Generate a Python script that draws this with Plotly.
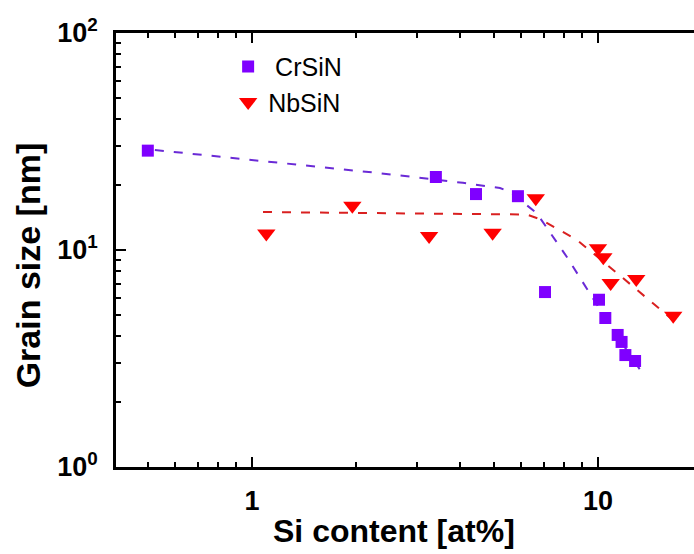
import plotly.graph_objects as go

# Measured grain sizes versus Si content
cr_si = [0.50, 3.40, 4.44, 5.87, 7.03, 10.07, 10.5, 11.4, 11.7, 12.0, 12.8]
cr_grain = [28.7, 21.7, 18.1, 17.7, 6.4, 5.9, 4.86, 4.06, 3.77, 3.28, 3.08]

nb_si = [1.10, 1.95, 3.25, 4.96, 6.61, 10.0, 10.36, 10.88, 12.9, 16.5]
nb_grain = [11.9, 16.0, 11.6, 12.0, 17.3, 10.2, 9.25, 7.05, 7.35, 4.98]

# Dashed trend lines
cr_fit_si = [0.524, 2.34, 4.07, 5.21, 5.57, 6.65, 8.12, 9.48, 11.05, 13.5]
cr_fit_grain = [28.9, 22.6, 20.4, 19.3, 18.5, 14.8, 9.31, 6.34, 4.28, 2.68]

nb_fit_si = [1.076, 6.23, 6.84, 8.70, 11.35, 17.26]
nb_fit_grain = [14.96, 14.57, 13.82, 11.12, 7.83, 4.46]

# Axis ticks
x_major = [1, 10]
x_major_text = ["1", "10"]
x_minor = [0.5, 0.6, 0.7, 0.8, 0.9, 2, 3, 4, 5, 6, 7, 8, 9, 20]
y_major = [1, 10, 100]
y_major_text = ["10<sup>0</sup>", "10<sup>1</sup>", "10<sup>2</sup>"]
y_minor = [2, 3, 4, 5, 6, 7, 8, 9, 20, 30, 40, 50, 60, 70, 80, 90]

PURPLE = "#7f00ff"
PURPLE_LINE = "#6a2ad6"
RED = "#ff0000"
RED_LINE = "#d92020"
FONT = "Liberation Sans"

fig = go.Figure()

fig.add_trace(go.Scatter(
    x=cr_fit_si, y=cr_fit_grain, mode="lines", showlegend=False,
    line=dict(color=PURPLE_LINE, width=2, dash="9px,10px"),
))
fig.add_trace(go.Scatter(
    x=nb_fit_si, y=nb_fit_grain, mode="lines", showlegend=False,
    line=dict(color=RED_LINE, width=2, dash="9px,10px"),
))
fig.add_trace(go.Scatter(
    x=cr_si, y=cr_grain, mode="markers", name=" CrSiN",
    marker=dict(symbol="square", size=12, color=PURPLE),
))
fig.add_trace(go.Scatter(
    x=nb_si, y=nb_grain, mode="markers", name="NbSiN",
    marker=dict(symbol="triangle-down", size=16, color=RED),
))

fig.update_xaxes(
    type="log", range=[-0.393, 1.2775],
    tickmode="array", tickvals=x_major, ticktext=x_major_text,
    ticks="inside", ticklen=10, tickwidth=2, tickcolor="black",
    tickfont=dict(family=FONT, size=27, color="black", weight="bold"),
    ticklabelstandoff=8,
    minor=dict(tickmode="array", tickvals=x_minor, ticks="inside",
               ticklen=5, tickwidth=1.5, tickcolor="black", showgrid=False),
    showline=True, linewidth=2.5, linecolor="black", mirror="allticks",
    showgrid=False, zeroline=False,
)
fig.update_yaxes(
    type="log", range=[0, 2],
    tickmode="array", tickvals=y_major, ticktext=y_major_text,
    ticks="inside", ticklen=10, tickwidth=2, tickcolor="black",
    tickfont=dict(family=FONT, size=27, color="black", weight="bold"),
    ticklabelstandoff=10,
    minor=dict(tickmode="array", tickvals=y_minor, ticks="inside",
               ticklen=5, tickwidth=1.5, tickcolor="black", showgrid=False),
    showline=True, linewidth=2.5, linecolor="black", mirror=False,
    showgrid=False, zeroline=False,
)

# Axis titles
fig.add_annotation(
    text="Si content [at%]", xref="paper", yref="paper",
    x=0.481, y=-0.148, xanchor="center", yanchor="middle", showarrow=False,
    font=dict(family=FONT, size=32, color="black", weight="bold"),
)
fig.add_annotation(
    text="Grain size [nm]", xref="paper", yref="paper",
    x=-0.152, y=0.465, xanchor="center", yanchor="middle", showarrow=False,
    textangle=-90,
    font=dict(family=FONT, size=34, color="black", weight="bold"),
)

fig.update_layout(
    width=694, height=554,
    margin=dict(l=116, r=0, t=33, b=87),
    paper_bgcolor="white", plot_bgcolor="white",
    legend=dict(
        x=0.194, y=0.975, xanchor="left", yanchor="top",
        font=dict(family=FONT, size=25, color="black"),
        bgcolor="rgba(0,0,0,0)", itemwidth=30, tracegroupgap=0,
    ),
)

fig.write_html("out.html")
